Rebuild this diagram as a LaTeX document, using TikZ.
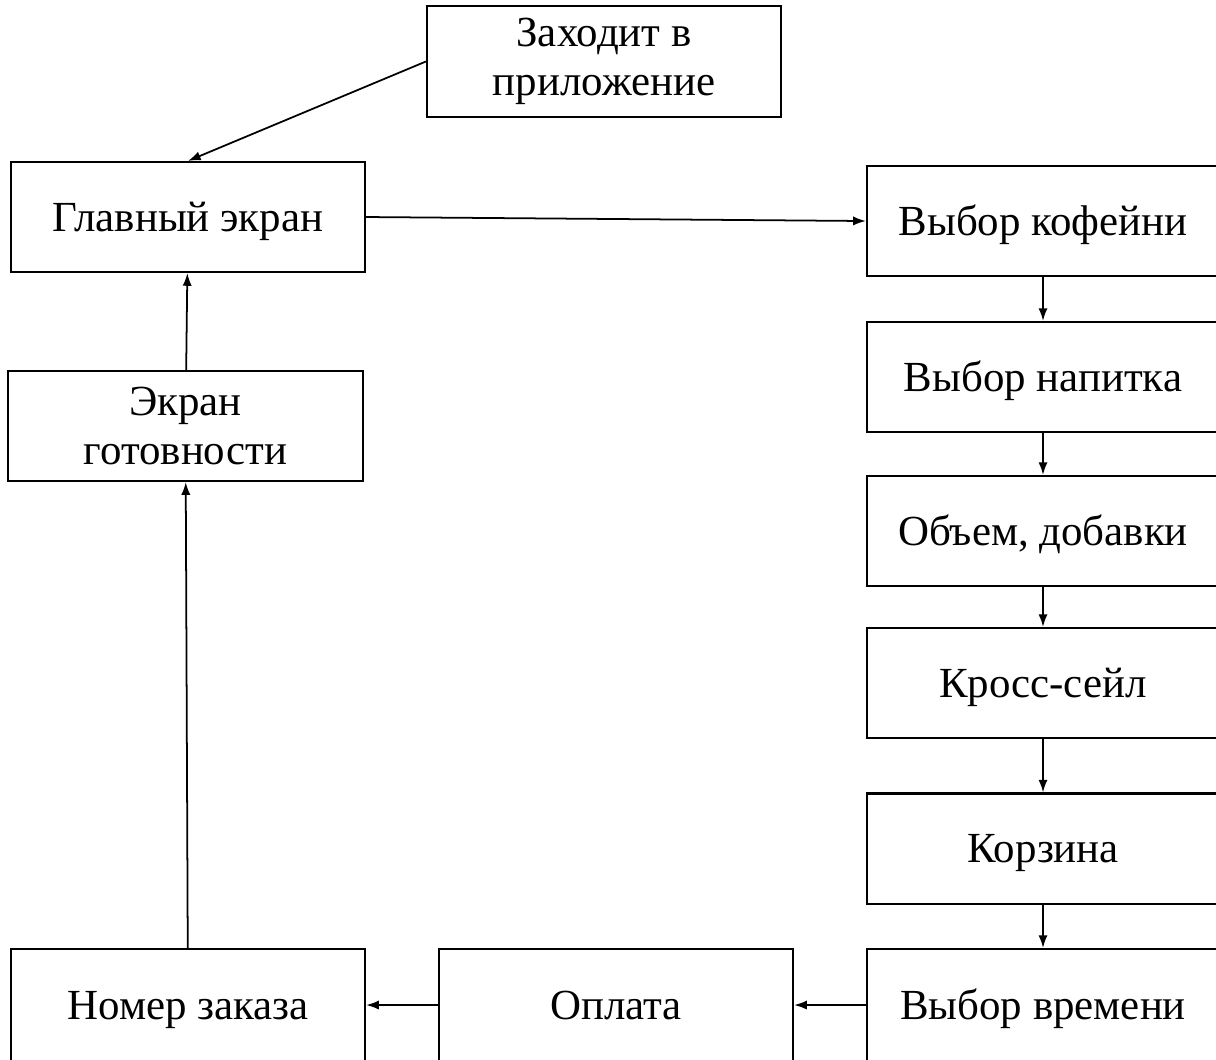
\documentclass[tikz,border=0pt]{standalone}
\usepackage{fontspec}
\setmainfont{Liberation Serif}
\usetikzlibrary{arrows.meta}

\begin{document}
\begin{tikzpicture}[x=0.01cm, y=-0.01cm,
  stage/.style={draw, line width=0.6pt, minimum width=3.54cm, minimum height=1.1cm,
    inner sep=0pt, align=center, font=\fontsize{12.2}{14}\selectfont},
  oneline/.style={stage, text height=8.1pt, text depth=0pt},
  flow/.style={-{Latex[length=3.6pt, width=2.6pt]}, line width=0.5pt}]
\useasboundingbox (0,0) rectangle (1216,1059);

% left column
\node[stage, minimum height=1.11cm] (zah) at (604,61.5) {Заходит в\\приложение};
\node[oneline] (glav) at (188,217) {Главный экран};
\node[stage] (gotov) at (185.5,426) {Экран\\готовности};

% right column (cut off at the page edge)
\node[oneline, minimum width=3.52cm] (kof) at (1043,221) {Выбор кофейни};
\node[oneline, minimum width=3.52cm] (nap) at (1043,377) {Выбор напитка};
\node[oneline, minimum width=3.52cm] (obem) at (1043,531) {Объем, добавки};
\node[oneline, minimum width=3.52cm] (kross) at (1043,683) {Кросс-сейл};
\node[oneline, minimum width=3.52cm] (korz) at (1043,848.5) {Корзина};

% bottom row
\node[oneline, minimum width=3.52cm, minimum height=1.12cm] (vrem) at (1043,1005) {Выбор времени};
\node[oneline, minimum height=1.12cm] (opl) at (616,1005) {Оплата};
\node[oneline, minimum height=1.12cm] (nomer) at (188,1005) {Номер заказа};

% arrows
\draw[flow] (zah.west) -- (glav.north);
\draw[flow] (glav.east) -- (kof.west);
\draw[flow] (kof) -- (nap);
\draw[flow] (nap) -- (obem);
\draw[flow] (obem) -- (kross);
\draw[flow] (kross) -- (korz);
\draw[flow] (korz) -- (vrem);
\draw[flow] (vrem) -- (opl);
\draw[flow] (opl) -- (nomer);
\draw[flow] (nomer) -- (gotov);
\draw[flow] (gotov) -- (glav);
\end{tikzpicture}
\end{document}
